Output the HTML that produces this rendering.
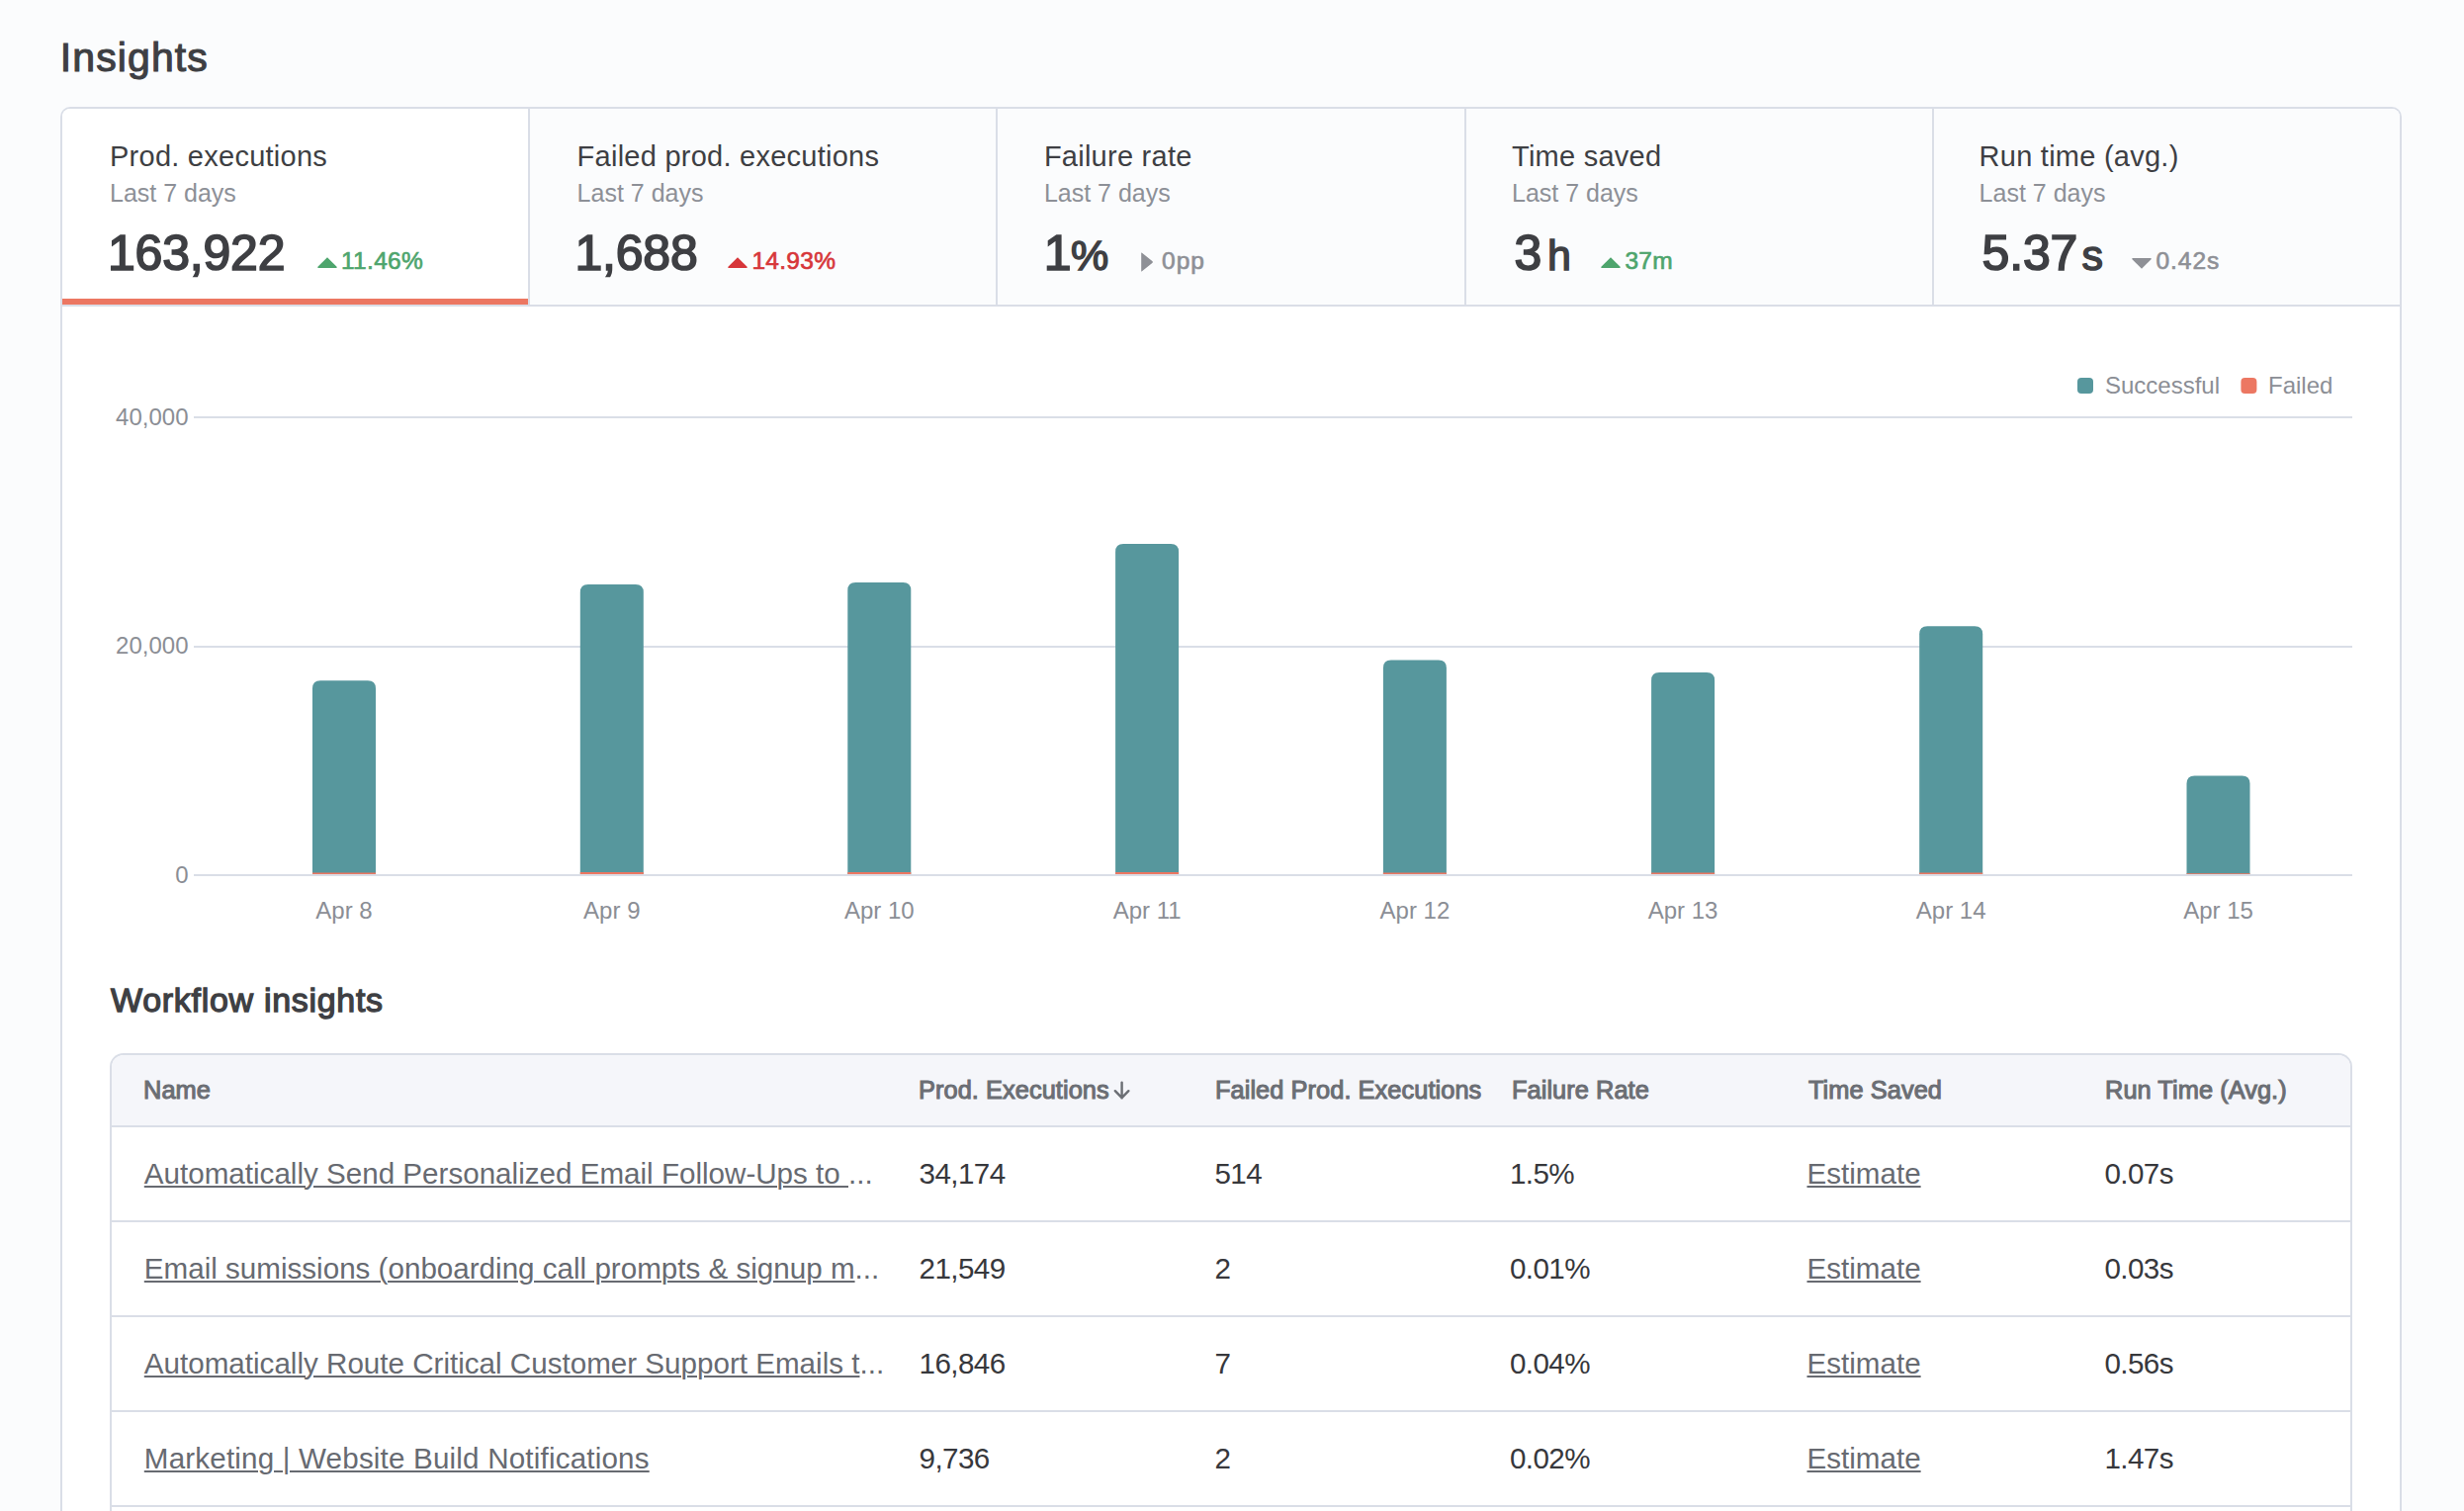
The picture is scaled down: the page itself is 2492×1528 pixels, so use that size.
<!DOCTYPE html>
<html>
<head>
<meta charset="utf-8">
<style>
html{margin:0;padding:0;width:2492px;height:1528px;overflow:hidden;}
body{margin:0;padding:0;}
body{width:2492px;height:1528px;overflow:hidden;position:relative;background:#fbfcfd;font-family:"Liberation Sans",sans-serif;color:#3e3f43;}
.a{position:absolute;line-height:1;white-space:nowrap;}
.t{font-size:29px;letter-spacing:0.25px;color:#3e3f43;}
.st{font-size:25px;color:#8d9097;}
.num{font-size:50px;font-weight:400;-webkit-text-stroke:1.7px #3e3f43;letter-spacing:-0.2px;color:#3e3f43;}
.unit{font-size:43px;font-weight:400;-webkit-text-stroke:1.5px #3e3f43;color:#3e3f43;}
.chg{font-size:24.5px;font-weight:400;-webkit-text-stroke:0.65px currentColor;letter-spacing:0.3px;}
.green{color:#4ea56d;}
.red{color:#d7363a;}
.grey{color:#8e9096;}
.ax{font-size:24px;color:#8b8e95;}
.hd{font-size:25.4px;font-weight:400;-webkit-text-stroke:1.05px #6b6e74;letter-spacing:0.05px;color:#6b6e74;}
.cell{font-size:29.6px;letter-spacing:-0.6px;color:#37383c;}
.lnk{font-size:29.6px;color:#676a71;}
.u{text-decoration:underline;text-decoration-thickness:2px;text-underline-offset:2px;}
</style>
</head>
<body>
<div class="a" style="left:60.8px;top:38.29px;font-size:41px;font-weight:400;-webkit-text-stroke:1.1px #3e3f43;letter-spacing:1.1px;">Insights</div>
<div class="a" style="left:61px;top:108px;width:2364px;height:1418px;border:2px solid #dadee7;border-bottom:none;border-radius:10px 10px 0 0;background:#fff;"></div>
<div class="a" style="left:63px;top:110px;width:471px;height:198px;background:#fff;border-top-left-radius:8px;"></div>
<div class="a" style="left:536px;top:110px;width:471px;height:198px;background:#fbfcfd;"></div>
<div class="a" style="left:1009px;top:110px;width:472px;height:198px;background:#fbfcfd;"></div>
<div class="a" style="left:1483px;top:110px;width:471px;height:198px;background:#fbfcfd;"></div>
<div class="a" style="left:1956px;top:110px;width:471px;height:198px;background:#fbfcfd;border-top-right-radius:8px;"></div>
<div class="a" style="left:534px;top:110px;width:2px;height:198px;background:#dadee7;"></div>
<div class="a" style="left:1007px;top:110px;width:2px;height:198px;background:#dadee7;"></div>
<div class="a" style="left:1481px;top:110px;width:2px;height:198px;background:#dadee7;"></div>
<div class="a" style="left:1954px;top:110px;width:2px;height:198px;background:#dadee7;"></div>
<div class="a" style="left:63px;top:308px;width:2364px;height:2px;background:#dadee7;"></div>
<div class="a" style="left:63px;top:302px;width:471px;height:6px;background:#ec7762;"></div>
<div class="a t" style="left:111px;top:144.05px;">Prod. executions</div>
<div class="a st" style="left:111px;top:182.54px;">Last 7 days</div>
<div class="a t" style="left:583.6px;top:144.05px;">Failed prod. executions</div>
<div class="a st" style="left:583.6px;top:182.54px;">Last 7 days</div>
<div class="a t" style="left:1055.9px;top:144.05px;">Failure rate</div>
<div class="a st" style="left:1055.9px;top:182.54px;">Last 7 days</div>
<div class="a t" style="left:1529px;top:144.05px;">Time saved</div>
<div class="a st" style="left:1529px;top:182.54px;">Last 7 days</div>
<div class="a t" style="left:2001.6px;top:144.05px;">Run time (avg.)</div>
<div class="a st" style="left:2001.6px;top:182.54px;">Last 7 days</div>
<div class="a num" style="left:109px;top:230.68px;">163,922</div>
<div class="a num" style="left:581.4px;top:230.68px;">1,688</div>
<div class="a num" style="left:1055.8px;top:230.68px;">1</div>
<div class="a unit" style="left:1083px;top:236.6px;">%</div>
<div class="a num" style="left:1531.5px;top:230.68px;">3</div>
<div class="a unit" style="left:1565px;top:236.6px;">h</div>
<div class="a num" style="left:2004.6px;top:230.68px;">5.37</div>
<div class="a unit" style="left:2105.5px;top:236.6px;">s</div>
<svg class="a" style="left:319.8px;top:259px;" width="22" height="13" viewBox="0 0 22 13"><path d="M11 1.2 L20.8 11 Q21 12 19.8 12 L2.2 12 Q1 12 1.2 11 Z" fill="#4ea56d"/></svg>
<div class="a chg green" style="left:345px;top:252.26px;">11.46%</div>
<svg class="a" style="left:734.8px;top:259px;" width="22" height="13" viewBox="0 0 22 13"><path d="M11 1.2 L20.8 11 Q21 12 19.8 12 L2.2 12 Q1 12 1.2 11 Z" fill="#d7363a"/></svg>
<div class="a chg red" style="left:760.4px;top:252.26px;">14.93%</div>
<svg class="a" style="left:1153px;top:254px;" width="14" height="22" viewBox="0 0 14 22"><path d="M1.2 2 Q1 1 2 1.8 L12.6 10.3 Q13.2 11 12.6 11.7 L2 20.2 Q1 21 1.2 20 Z" fill="#8e9096"/></svg>
<div class="a chg grey" style="left:1175px;top:252.26px;letter-spacing:1px;">0pp</div>
<svg class="a" style="left:1617.9px;top:259px;" width="22" height="13" viewBox="0 0 22 13"><path d="M11 1.2 L20.8 11 Q21 12 19.8 12 L2.2 12 Q1 12 1.2 11 Z" fill="#4ea56d"/></svg>
<div class="a chg green" style="left:1643.4px;top:252.26px;">37m</div>
<svg class="a" style="left:2155px;top:259.8px;" width="22" height="13" viewBox="0 0 22 13"><path d="M11 11.8 L20.8 2 Q21 1 19.8 1 L2.2 1 Q1 1 1.2 2 Z" fill="#8e9096"/></svg>
<div class="a chg grey" style="left:2180.4px;top:252.26px;letter-spacing:1px;">0.42s</div>
<svg class="a" style="left:0;top:0;" width="2492" height="1000" viewBox="0 0 2492 1000"><rect x="196" y="421" width="2183" height="2" fill="#dadee7"/><rect x="196" y="653" width="2183" height="2" fill="#dadee7"/><rect x="196" y="884" width="2183" height="2" fill="#dadee7"/><path d="M316 884 L316 696.3 Q316 688.3 324 688.3 L372 688.3 Q380 688.3 380 696.3 L380 884 Z" fill="#57979d"/><rect x="316" y="882.5" width="64" height="1.5" fill="#ec7762"/><path d="M586.8 884 L586.8 599.1 Q586.8 591.1 594.8 591.1 L642.8 591.1 Q650.8 591.1 650.8 599.1 L650.8 884 Z" fill="#57979d"/><rect x="586.8" y="882" width="64" height="2" fill="#ec7762"/><path d="M857.3 884 L857.3 597.1 Q857.3 589.1 865.3 589.1 L913.3 589.1 Q921.3 589.1 921.3 597.1 L921.3 884 Z" fill="#57979d"/><rect x="857.3" y="882" width="64" height="2" fill="#ec7762"/><path d="M1128.1 884 L1128.1 558 Q1128.1 550 1136.1 550 L1184.1 550 Q1192.1 550 1192.1 558 L1192.1 884 Z" fill="#57979d"/><rect x="1128.1" y="882" width="64" height="2" fill="#ec7762"/><path d="M1398.9 884 L1398.9 675.4 Q1398.9 667.4 1406.9 667.4 L1454.9 667.4 Q1462.9 667.4 1462.9 675.4 L1462.9 884 Z" fill="#57979d"/><rect x="1398.9" y="882.5" width="64" height="1.5" fill="#ec7762"/><path d="M1670.1 884 L1670.1 688 Q1670.1 680 1678.1 680 L1726.1 680 Q1734.1 680 1734.1 688 L1734.1 884 Z" fill="#57979d"/><rect x="1670.1" y="882.5" width="64" height="1.5" fill="#ec7762"/><path d="M1941.2 884 L1941.2 641.2 Q1941.2 633.2 1949.2 633.2 L1997.2 633.2 Q2005.2 633.2 2005.2 641.2 L2005.2 884 Z" fill="#57979d"/><rect x="1941.2" y="882.5" width="64" height="1.5" fill="#ec7762"/><path d="M2211.5 884 L2211.5 792.6 Q2211.5 784.6 2219.5 784.6 L2267.5 784.6 Q2275.5 784.6 2275.5 792.6 L2275.5 884 Z" fill="#57979d"/><rect x="2211.5" y="883.2" width="64" height="0.8" fill="#ec7762"/><rect x="2101" y="382" width="16" height="16" rx="4" fill="#57979d"/><rect x="2266.4" y="382" width="16" height="16" rx="4" fill="#ec7762"/></svg>
<div class="a ax" style="left:2129px;top:377.68px;">Successful</div>
<div class="a ax" style="left:2294px;top:377.68px;">Failed</div>
<div class="a ax" style="right:2301.5px;top:410.18px;text-align:right;">40,000</div>
<div class="a ax" style="right:2301.5px;top:641.38px;text-align:right;">20,000</div>
<div class="a ax" style="right:2301.5px;top:872.68px;text-align:right;">0</div>
<div class="a ax" style="left:198px;width:300px;text-align:center;top:909.18px;">Apr 8</div>
<div class="a ax" style="left:468.79999999999995px;width:300px;text-align:center;top:909.18px;">Apr 9</div>
<div class="a ax" style="left:739.3px;width:300px;text-align:center;top:909.18px;">Apr 10</div>
<div class="a ax" style="left:1010.0999999999999px;width:300px;text-align:center;top:909.18px;">Apr 11</div>
<div class="a ax" style="left:1280.9px;width:300px;text-align:center;top:909.18px;">Apr 12</div>
<div class="a ax" style="left:1552.1px;width:300px;text-align:center;top:909.18px;">Apr 13</div>
<div class="a ax" style="left:1823.2px;width:300px;text-align:center;top:909.18px;">Apr 14</div>
<div class="a ax" style="left:2093.5px;width:300px;text-align:center;top:909.18px;">Apr 15</div>
<div class="a" style="left:112px;top:994.12px;font-size:34px;font-weight:400;-webkit-text-stroke:1.3px #3e3f43;letter-spacing:0.7px;">Workflow insights</div>
<div class="a" style="left:111px;top:1065px;width:2264px;height:461px;border:2px solid #dadee7;border-bottom:none;border-radius:14px 14px 0 0;background:#fff;overflow:hidden;"><div style="position:absolute;left:0;top:0;width:2264px;height:71px;background:#f5f6fa;border-bottom:2px solid #dadee7;"></div><div style="position:absolute;left:0;top:167px;width:2264px;height:2px;background:#dadee7;"></div><div style="position:absolute;left:0;top:263px;width:2264px;height:2px;background:#dadee7;"></div><div style="position:absolute;left:0;top:359px;width:2264px;height:2px;background:#dadee7;"></div><div style="position:absolute;left:0;top:455px;width:2264px;height:2px;background:#dadee7;"></div></div>
<div class="a hd" style="left:145px;top:1089.5px;">Name</div>
<div class="a hd" style="left:929px;top:1089.5px;">Prod. Executions</div>
<div class="a hd" style="left:1229px;top:1089.5px;">Failed Prod. Executions</div>
<div class="a hd" style="left:1529px;top:1089.5px;">Failure Rate</div>
<div class="a hd" style="left:1829px;top:1089.5px;">Time Saved</div>
<div class="a hd" style="left:2129px;top:1089.5px;">Run Time (Avg.)</div>
<svg class="a" style="left:1124px;top:1092px;" width="20" height="21" viewBox="0 0 20 21"><path d="M10.6 2.6 L10.6 18.4 M3.8 11.2 L10.6 18.2 L17.4 11.2" stroke="#6b6e74" stroke-width="2.4" fill="none" stroke-linecap="round" stroke-linejoin="round"/></svg>
<div class="a lnk" style="left:145.8px;top:1172.14px;"><span class="u">Automatically Send Personalized Email Follow-Ups to </span>...</div>
<div class="a cell" style="left:929.6px;top:1172.14px;">34,174</div>
<div class="a cell" style="left:1228.5px;top:1172.14px;">514</div>
<div class="a cell" style="left:1527px;top:1172.14px;">1.5%</div>
<div class="a lnk" style="left:1827.5px;top:1172.14px;"><span class="u">Estimate</span></div>
<div class="a cell" style="left:2128.5px;top:1172.14px;">0.07s</div>
<div class="a lnk" style="left:145.8px;top:1268.14px;"><span class="u">Email sumissions (onboarding call prompts &amp; signup m</span>...</div>
<div class="a cell" style="left:929.6px;top:1268.14px;">21,549</div>
<div class="a cell" style="left:1228.5px;top:1268.14px;">2</div>
<div class="a cell" style="left:1527px;top:1268.14px;">0.01%</div>
<div class="a lnk" style="left:1827.5px;top:1268.14px;"><span class="u">Estimate</span></div>
<div class="a cell" style="left:2128.5px;top:1268.14px;">0.03s</div>
<div class="a lnk" style="left:145.8px;top:1364.24px;"><span class="u">Automatically Route Critical Customer Support Emails t</span>...</div>
<div class="a cell" style="left:929.6px;top:1364.24px;">16,846</div>
<div class="a cell" style="left:1228.5px;top:1364.24px;">7</div>
<div class="a cell" style="left:1527px;top:1364.24px;">0.04%</div>
<div class="a lnk" style="left:1827.5px;top:1364.24px;"><span class="u">Estimate</span></div>
<div class="a cell" style="left:2128.5px;top:1364.24px;">0.56s</div>
<div class="a lnk" style="left:145.8px;top:1460.24px;letter-spacing:0.18px;"><span class="u">Marketing | Website Build Notifications</span></div>
<div class="a cell" style="left:929.6px;top:1460.24px;">9,736</div>
<div class="a cell" style="left:1228.5px;top:1460.24px;">2</div>
<div class="a cell" style="left:1527px;top:1460.24px;">0.02%</div>
<div class="a lnk" style="left:1827.5px;top:1460.24px;"><span class="u">Estimate</span></div>
<div class="a cell" style="left:2128.5px;top:1460.24px;">1.47s</div>
</body>
</html>
